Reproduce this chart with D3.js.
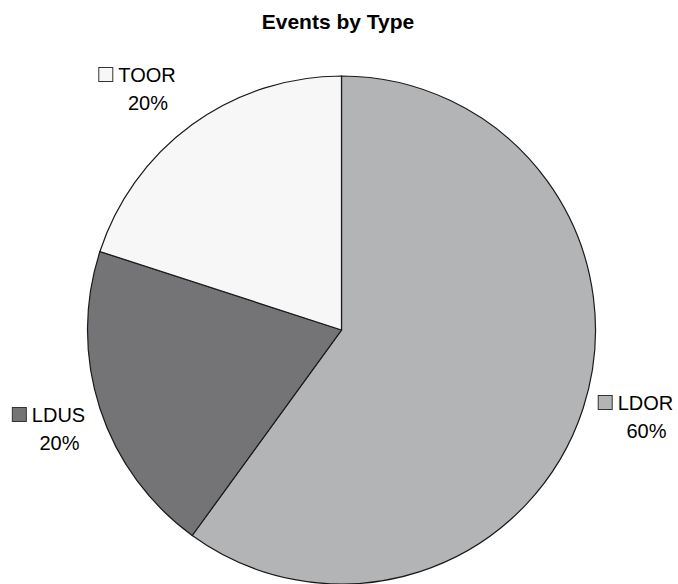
<!DOCTYPE html>
<html>
<head>
<meta charset="utf-8">
<script src="https://cdn.jsdelivr.net/npm/d3@7"></script>
<style>
  html, body { margin: 0; padding: 0; background: #fff; }
  svg { display: block; font-family: "Liberation Sans", Arial, Helvetica, sans-serif; }
</style>
</head>
<body>
<svg id="chart" width="678" height="584"></svg>
<script>
// Event counts by type (shares of total)
const categories = ["LDOR", "LDUS", "TOOR"];
const shares = [60, 20, 20];
const fills = ["#b3b4b6", "#747477", "#f7f7f7"];
const title = "Events by Type";

const cx = 341.5, cy = 330, radius = 254;

const svg = d3.select("#chart");

svg.append("text")
  .attr("x", 338).attr("y", 29)
  .attr("text-anchor", "middle")
  .attr("font-weight", "bold")
  .attr("font-size", 21)
  .attr("fill", "#000")
  .text(title);

const data = categories.map((c, i) => ({ name: c, value: shares[i], fill: fills[i] }));

const pie = d3.pie().sort(null).value(d => d.value);
const arc = d3.arc().innerRadius(0).outerRadius(radius);
const arcs = pie(data);

const g = svg.append("g").attr("transform", `translate(${cx},${cy})`);
g.selectAll("path")
  .data(arcs)
  .join("path")
  .attr("d", arc)
  .attr("fill", d => d.data.fill)
  .attr("stroke", "#1a1a1a")
  .attr("stroke-width", 1.2)
  .attr("stroke-linejoin", "miter");

// Label anchors: centre x of the name and its baseline
const labelPos = {
  LDOR: { x: 645.5, y: 410 },
  LDUS: { x: 58.5, y: 422 },
  TOOR: { x: 147, y: 82 }
};

const labels = svg.append("g");
arcs.forEach(a => {
  const p = labelPos[a.data.name];
  const lg = labels.append("g").attr("transform", `translate(${p.x},${p.y})`);
  const t = lg.append("text")
    .attr("x", 0).attr("y", 0)
    .attr("text-anchor", "middle")
    .attr("font-size", 20)
    .attr("fill", "#000")
    .text(a.data.name);
  const bb = t.node().getBBox();
  lg.append("rect")
    .attr("x", bb.x - 19.5).attr("y", -14.5)
    .attr("width", 14).attr("height", 14)
    .attr("fill", a.data.fill)
    .attr("stroke", "#333")
    .attr("stroke-width", 1);
  lg.append("text")
    .attr("x", 1).attr("y", 28)
    .attr("text-anchor", "middle")
    .attr("font-size", 20)
    .attr("fill", "#000")
    .text(d3.format(".0f")(a.data.value) + "%");
});
</script>
</body>
</html>
